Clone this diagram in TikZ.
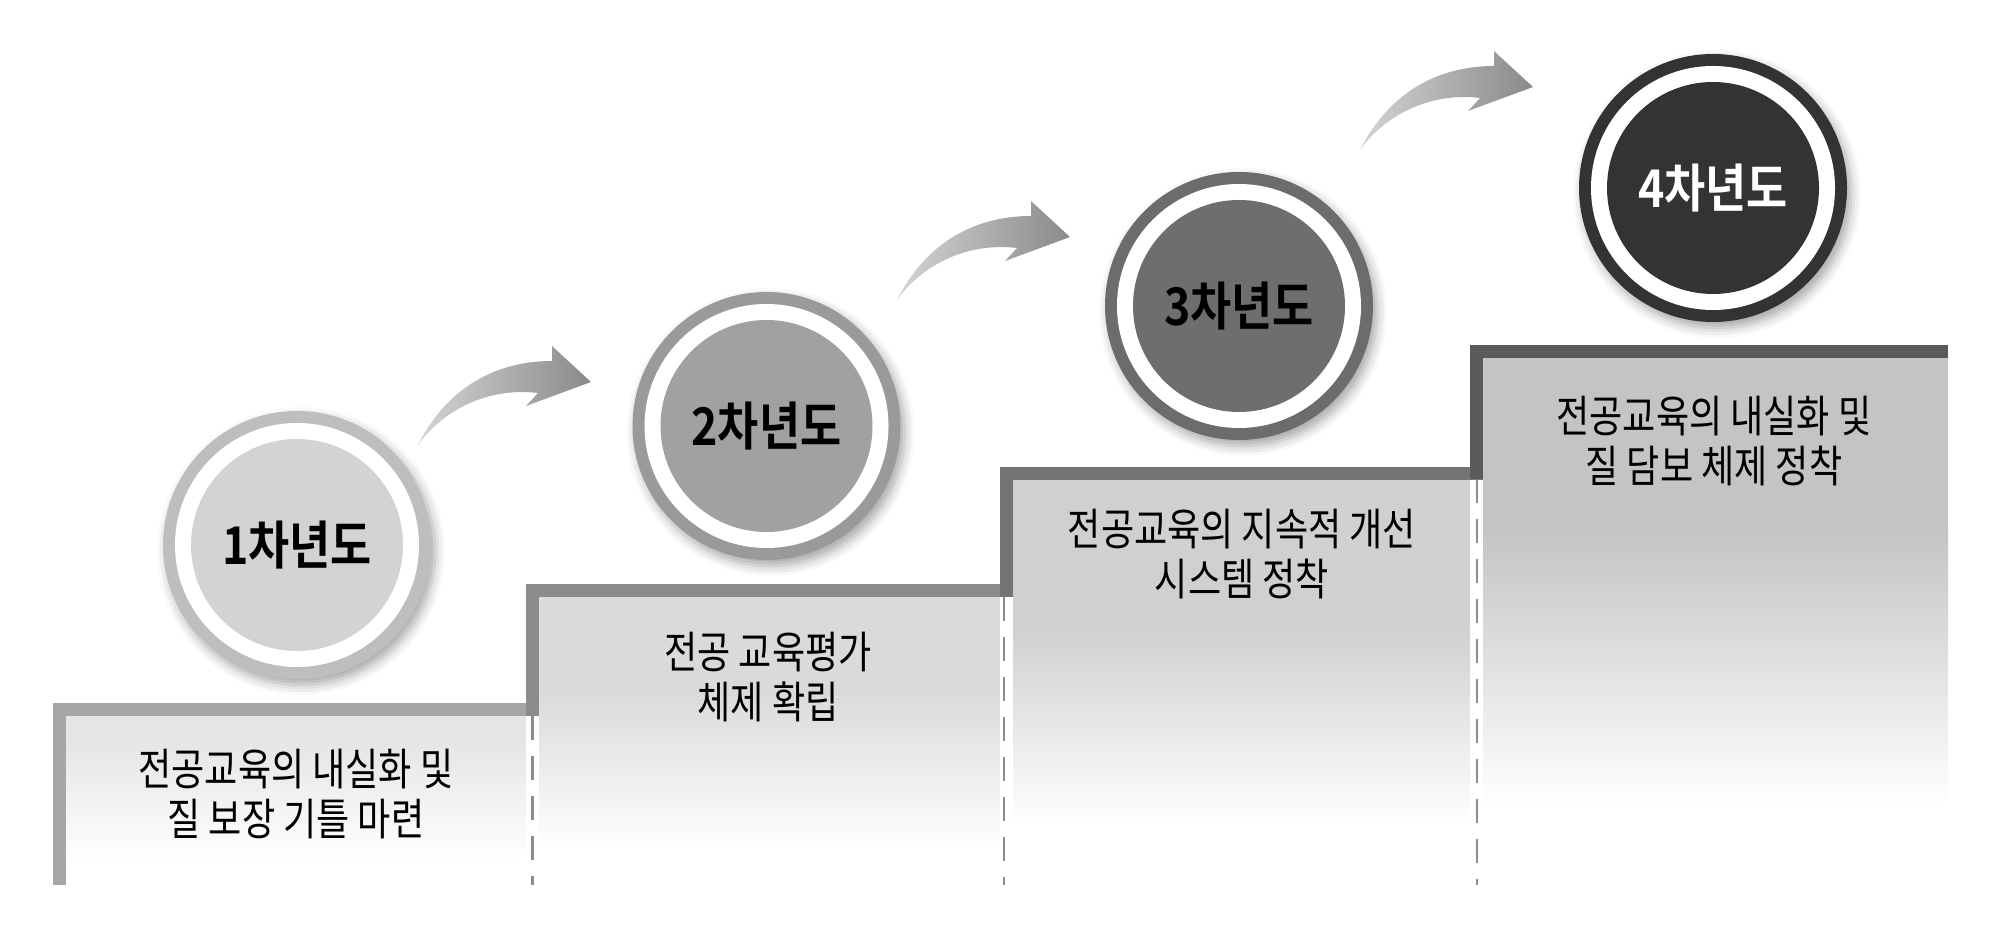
\documentclass[tikz,border=0pt]{standalone}
\usepackage{fontspec}
\newfontfamily\krfont[FakeStretch=0.82]{Noto Sans CJK KR}
\newfontfamily\krbold[FakeStretch=0.86]{Noto Sans CJK KR Bold}
\usetikzlibrary{shadows.blur}

\definecolor{barA}{HTML}{A6A6A6}
\definecolor{barB}{HTML}{8C8C8C}
\definecolor{barC}{HTML}{747474}
\definecolor{barD}{HTML}{5A5A5A}
\definecolor{fillA}{HTML}{E5E5E5}
\definecolor{fillB}{HTML}{DADADA}
\definecolor{fillC}{HTML}{D0D0D0}
\definecolor{fillD}{HTML}{C4C4C4}
\definecolor{ringA}{HTML}{BEBEBE}
\definecolor{diskA}{HTML}{D3D3D3}
\definecolor{ringB}{HTML}{9A9A9A}
\definecolor{diskB}{HTML}{A1A1A1}
\definecolor{ringC}{HTML}{6C6C6C}
\definecolor{diskC}{HTML}{6E6E6E}
\definecolor{ringD}{HTML}{333333}
\definecolor{diskD}{HTML}{333333}
\definecolor{arrowL}{HTML}{D4D4D4}
\definecolor{arrowR}{HTML}{8A8A8A}

\begin{document}
\begin{tikzpicture}[x=0.5pt, y=-0.5pt,
    yr/.style 2 args={circle, minimum size=134pt, inner sep=0pt, fill=#1,
        blur shadow={shadow xshift=2pt, shadow yshift=-3pt, shadow blur radius=5pt, shadow opacity=35},
        path picture={
            \fill[white] (path picture bounding box.center) circle (61pt);
            \fill[#2] (path picture bounding box.center) circle (53pt);},
        font=\krbold\fontsize{26}{30}\selectfont},
    goal/.style={anchor=north, align=center, inner sep=0pt, font=\krfont\fontsize{22}{25}\selectfont},
    bar/.style={draw=#1, line width=6.5pt},
    guide/.style={draw=gray!90, line width=1.1pt, dash pattern=on 12pt off 8pt},
    bend/.pic={
        \shade[left color=arrowL, right color=arrowR] (0,0) .. controls (25,-50) and (70,-84) .. (134,-84)
            -- (134,-99) -- (173,-63) -- (108,-39) -- (120,-52) .. controls (70,-58) and (25,-35) .. (0,0) -- cycle;}
]
\useasboundingbox (0,0) rectangle (2008,945);

% step fills
\fill[fillA] (66,716) rectangle (526,740);
\shade[top color=fillA, bottom color=white] (66,740) rectangle (526,860);
\fill[fillB] (539,597) rectangle (1000,690);
\shade[top color=fillB, bottom color=white] (539,690) rectangle (1000,850);
\fill[fillC] (1013,480) rectangle (1470,627);
\shade[top color=fillC, bottom color=white] (1013,627) rectangle (1470,825);
\fill[fillD] (1483,358) rectangle (1948,530);
\shade[top color=fillD, bottom color=white] (1483,530) rectangle (1948,805);

% stairs
\draw[bar=barA] (59.5,885) |- (539,709.5);
\draw[bar=barB] (532.5,716) |- (1012,590.5);
\draw[bar=barC] (1006.5,597) |- (1483,473.5);
\draw[bar=barD] (1476.5,479) |- (1948,351.5);

\draw[guide] (532.5,716) -- (532.5,885);
\draw[guide] (1004,597) -- (1004,885);
\draw[guide] (1477,479) -- (1477,885);

% years
\node[yr={ringA}{diskA}] (yr1) at (297,545) {1차년도};
\node[yr={ringB}{diskB}] (yr2) at (766.5,426) {2차년도};
\node[yr={ringC}{diskC}] (yr3) at (1239,306) {3차년도};
\node[yr={ringD}{diskD}, text=white] (yr4) at (1713,188) {4차년도};

\pic (go1) at (418,445) {bend};
\pic (go2) at (897,300) {bend};
\pic (go3) at (1360,150) {bend};

% goals
\node[goal] (goal1) at (296,749) {전공교육의 내실화 및\\질 보장 기틀 마련};
\node[goal] (goal2) at (768,632) {전공 교육평가\\체제 확립};
\node[goal] (goal3) at (1242,509) {전공교육의 지속적 개선\\시스템 정착};
\node[goal] (goal4) at (1714,396) {전공교육의 내실화 및\\질 담보 체제 정착};
\end{tikzpicture}
\end{document}
